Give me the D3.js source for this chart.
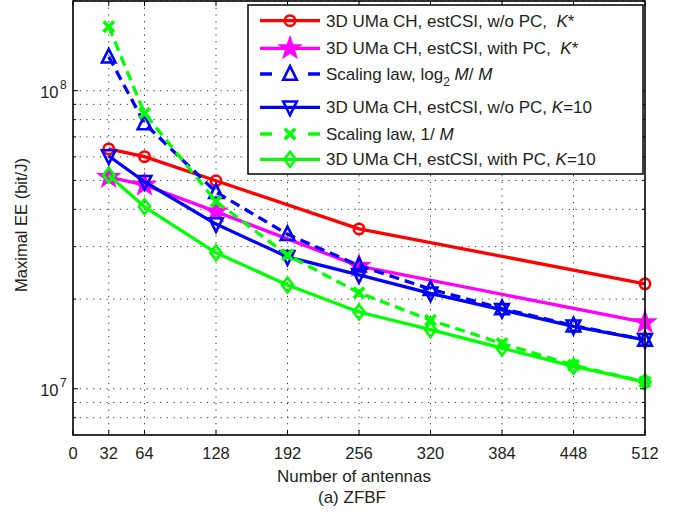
<!DOCTYPE html>
<html>
<head>
<meta charset="utf-8">
<script src="https://cdn.jsdelivr.net/npm/d3@7"></script>
<style>
  body { margin: 0; background: #fff; }
  svg { display: block; }
  text { font-family: "Liberation Sans", Arial, sans-serif; fill: #231f20; }
</style>
</head>
<body>
<svg id="chart" width="683" height="513"></svg>
<script>
// Number of BS antennas M
const antennas = [32, 64, 128, 192, 256, 320, 384, 448, 512];
const antennasKStar = [32, 64, 128, 256, 512];

// Maximal energy efficiency (bit/J)
const eeNoPcKStar = [6.38e7, 6.01e7, 4.99e7, 3.44e7, 2.25e7];
const eePcKStar   = [5.13e7, 4.83e7, 3.93e7, 2.58e7, 1.67e7];
const scalingLog2 = [1.30e8, 7.77e7, 4.57e7, 3.30e7, 2.59e7, 2.16e7, 1.86e7, 1.63e7, 1.46e7];
const eeNoPcK10   = [6.04e7, 4.95e7, 3.57e7, 2.77e7, 2.41e7, 2.09e7, 1.84e7, 1.62e7, 1.46e7];
const scalingInv  = [1.64e8, 8.40e7, 4.25e7, 2.81e7, 2.10e7, 1.70e7, 1.42e7, 1.20e7, 1.055e7];
const eePcK10     = [5.21e7, 4.08e7, 2.86e7, 2.23e7, 1.81e7, 1.58e7, 1.37e7, 1.19e7, 1.055e7];

// Axis ticks
const xTicks = [0, 32, 64, 128, 192, 256, 320, 384, 448, 512];
const yMajor = [1e7, 1e8];
const yMajorExp = ["7", "8"];
const yMinor = [8e6, 9e6, 2e7, 3e7, 4e7, 5e7, 6e7, 7e7, 8e7, 9e7, 2e8];

// Legend labels: [text, italic?, baseline shift] pieces
const series = [
  { xs: antennasKStar, ys: eeNoPcKStar, color: "#ff0000", dash: null, marker: "circle",
    label: [["3D UMa CH, estCSI, w/o PC,  ", 0], ["K", 1], ["*", 0]] },
  { xs: antennasKStar, ys: eePcKStar, color: "#ff00ff", dash: null, marker: "star",
    label: [["3D UMa CH, estCSI, with PC,  ", 0], ["K", 1], ["*", 0]] },
  { xs: antennas, ys: scalingLog2, color: "#0000ff", dash: "10,6", marker: "up",
    label: [["Scaling law, log", 0], ["2", 0, "sub"], [" M", 1, "up"], ["/ ", 0], ["M", 1]] },
  { xs: antennas, ys: eeNoPcK10, color: "#0000ff", dash: null, marker: "down",
    label: [["3D UMa CH, estCSI, w/o PC, ", 0], ["K", 1], ["=10", 0]] },
  { xs: antennas, ys: scalingInv, color: "#00ff00", dash: "10,6", marker: "cross",
    label: [["Scaling law, 1/ ", 0], ["M", 1]] },
  { xs: antennas, ys: eePcK10, color: "#00ff00", dash: null, marker: "diamond",
    label: [["3D UMa CH, estCSI, with PC, ", 0], ["K", 1], ["=10", 0]] }
];

const svg = d3.select("#chart");
const pLeft = 73, pRight = 645, pTop = 1, pBottom = 435;
const x = d3.scaleLinear().domain([0, 512]).range([pLeft, pRight]);
const y = d3.scaleLog().domain([7e6, 2e8]).range([pBottom, pTop]);

// Grid
const grid = svg.append("g").attr("stroke", "#333").attr("stroke-width", 1)
  .attr("stroke-dasharray", "1.2,5.5").attr("fill", "none");
xTicks.filter(d => d > 0 && d < 512).forEach(d => {
  grid.append("line").attr("x1", x(d)).attr("x2", x(d)).attr("y1", pTop).attr("y2", pBottom);
});
yMajor.concat(yMinor).forEach(d => {
  grid.append("line").attr("x1", pLeft).attr("x2", pRight).attr("y1", y(d)).attr("y2", y(d));
});

// Marker shapes
function markerPath(type) {
  if (type === "star") {
    const R = 9.5, r = R * 0.40;
    const pts = [];
    for (let i = 0; i < 10; i++) {
      const a = -Math.PI / 2 + i * Math.PI / 5;
      const rad = i % 2 === 0 ? R : r;
      pts.push([rad * Math.cos(a), rad * Math.sin(a)]);
    }
    return "M" + pts.map(p => p.join(",")).join("L") + "Z";
  }
  if (type === "up") { const s = 6.8; return `M0,${-s - 1}L${s},${s - 1}L${-s},${s - 1}Z`; }
  if (type === "down") { const s = 6.8; return `M0,${s + 1}L${s},${-s + 1}L${-s},${-s + 1}Z`; }
  if (type === "diamond") { const w = 5.6, h = 7.4; return `M0,${-h}L${w},0L0,${h}L${-w},0Z`; }
  if (type === "cross") { const s = 5.2; return `M${-s},${-s}L${s},${s}M${s},${-s}L${-s},${s}`; }
  return null;
}
function drawMarker(g, type, color, cx, cy) {
  if (type === "circle") {
    g.append("circle").attr("cx", cx).attr("cy", cy).attr("r", 5.2)
      .attr("fill", "none").attr("stroke", color).attr("stroke-width", 2.6);
  } else {
    g.append("path").attr("d", markerPath(type))
      .attr("transform", `translate(${cx},${cy})`)
      .attr("fill", type === "star" ? color : "none")
      .attr("stroke", color)
      .attr("stroke-width", type === "cross" ? 3.6 : 2.6)
      .attr("stroke-linejoin", "miter");
  }
}

// Lines and markers
const line = d3.line().x(d => x(d[0])).y(d => y(d[1]));
const plot = svg.append("g");
series.forEach(s => {
  const pts = s.xs.map((m, i) => [m, s.ys[i]]);
  const g = plot.append("g");
  g.append("path").datum(pts).attr("d", line)
    .attr("fill", "none").attr("stroke", s.color).attr("stroke-width", 3.3)
    .attr("stroke-dasharray", s.dash).attr("stroke-linejoin", "round");
  pts.forEach(p => drawMarker(g, s.marker, s.color, x(p[0]), y(p[1])));
});

// Axes frame and inward ticks
const ax = svg.append("g").attr("stroke", "#000").attr("fill", "none");
ax.append("rect").attr("x", pLeft).attr("y", pTop).attr("width", pRight - pLeft)
  .attr("height", pBottom - pTop).attr("stroke-width", 1.6);
xTicks.forEach(d => {
  ax.append("line").attr("x1", x(d)).attr("x2", x(d)).attr("y1", pBottom).attr("y2", pBottom - 5).attr("stroke-width", 1);
  ax.append("line").attr("x1", x(d)).attr("x2", x(d)).attr("y1", pTop).attr("y2", pTop + 5).attr("stroke-width", 1);
});
yMajor.forEach(d => {
  ax.append("line").attr("x1", pLeft).attr("x2", pLeft + 5).attr("y1", y(d)).attr("y2", y(d)).attr("stroke-width", 1);
  ax.append("line").attr("x1", pRight).attr("x2", pRight - 5).attr("y1", y(d)).attr("y2", y(d)).attr("stroke-width", 1);
});
yMinor.forEach(d => {
  ax.append("line").attr("x1", pLeft).attr("x2", pLeft + 3).attr("y1", y(d)).attr("y2", y(d)).attr("stroke-width", 1);
  ax.append("line").attr("x1", pRight).attr("x2", pRight - 3).attr("y1", y(d)).attr("y2", y(d)).attr("stroke-width", 1);
});

// Tick labels
const fs = 16.5;
svg.append("g").selectAll("text").data(xTicks).join("text")
  .attr("x", d => x(d)).attr("y", pBottom + 24).attr("text-anchor", "middle")
  .attr("font-size", fs).text(d => d);
yMajor.forEach((d, i) => {
  svg.append("text").attr("x", 58.5).attr("y", y(d) + 7).attr("text-anchor", "end")
    .attr("font-size", fs).text("10");
  svg.append("text").attr("x", 60).attr("y", y(d) - 2).attr("font-size", 12).text(yMajorExp[i]);
});

// Axis titles
svg.append("text").attr("x", 354).attr("y", 482).attr("text-anchor", "middle")
  .attr("font-size", 17).text("Number of antennas");
svg.append("text").attr("x", 352).attr("y", 503).attr("text-anchor", "middle")
  .attr("font-size", 17).text("(a) ZFBF");
svg.append("text").attr("transform", "translate(27,225) rotate(-90)")
  .attr("text-anchor", "middle").attr("font-size", 16.5).text("Maximal EE (bit/J)");

// Legend
const legX = 248, legY = 5, legW = 395, legH = 169;
const lg = svg.append("g");
lg.append("rect").attr("x", legX).attr("y", legY).attr("width", legW).attr("height", legH)
  .attr("fill", "#fff").attr("stroke", "#000").attr("stroke-width", 1.5);
const rowY = [20.7, 48.3, 74, 107.3, 134, 159.3];
series.forEach((s, i) => {
  const ry = rowY[i];
  lg.append("line").attr("x1", 260).attr("x2", 320).attr("y1", ry).attr("y2", ry)
    .attr("stroke", s.color).attr("stroke-width", 3.3)
    .attr("stroke-dasharray", s.dash ? "12,36" : null);
  drawMarker(lg, s.marker, s.color, 290, ry);
  const t = lg.append("text").attr("x", 326).attr("y", ry + 6).attr("font-size", 17)
    .style("white-space", "pre");
  s.label.forEach(p => {
    const ts = t.append("tspan").text(p[0]);
    if (p[1]) ts.attr("font-style", "italic");
    if (p[2] === "sub") ts.attr("font-size", 12).attr("dy", 6);
    if (p[2] === "up") ts.attr("dy", -6);
  });
});
</script>
</body>
</html>
